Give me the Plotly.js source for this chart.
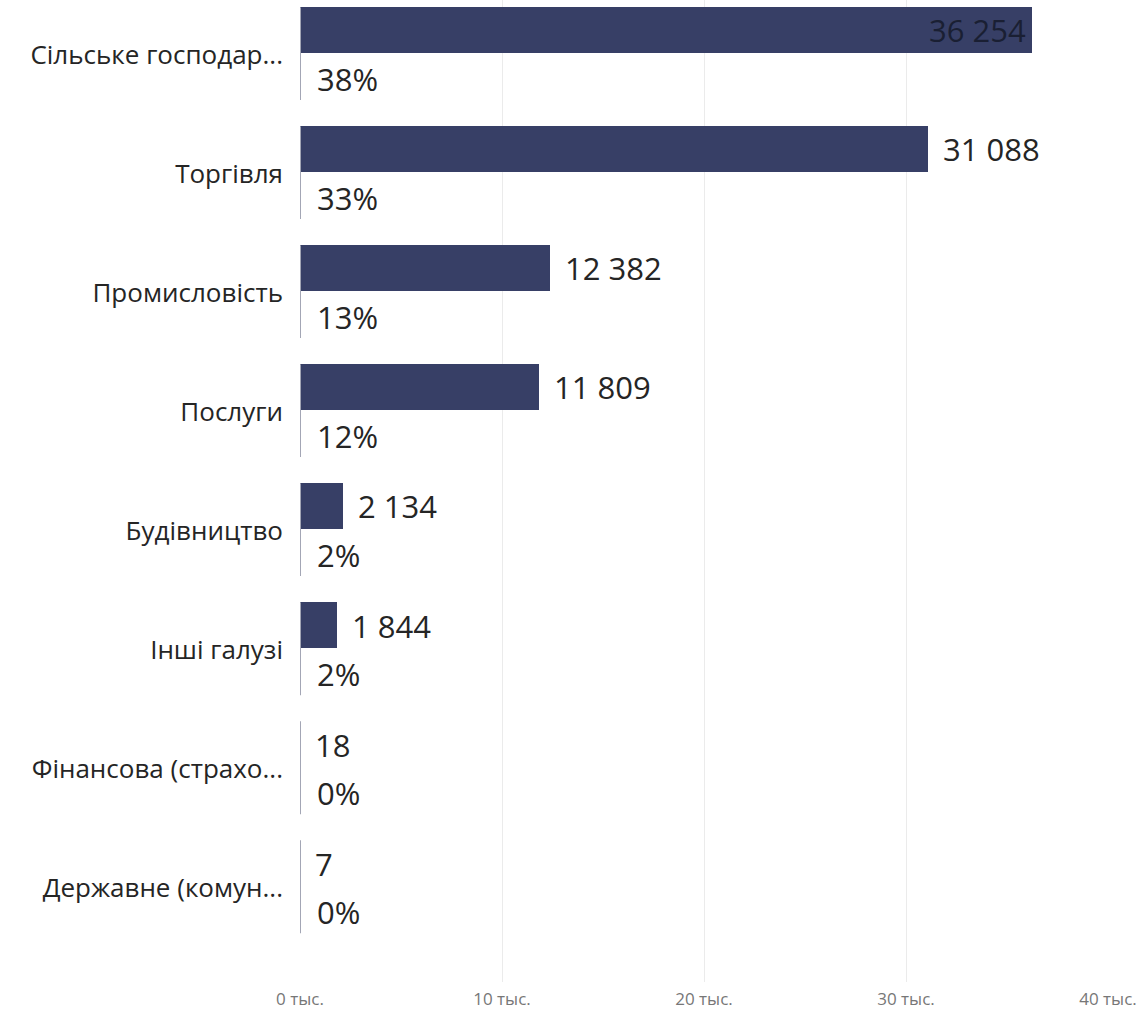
<!DOCTYPE html>
<html>
<head>
<meta charset="utf-8">
<script src="https://cdn.plot.ly/plotly-3.0.1.min.js"></script>
<style>html,body{margin:0;padding:0;background:#fff;}#chart{width:1138px;height:1012px;}</style>
</head>
<body>
<div id="chart"></div>
<script>
const categories = ["Сільське господар...", "Торгівля", "Промисловість", "Послуги", "Будівництво", "Інші галузі", "Фінансова (страхо...", "Державне (комун..."];
const values = [36254, 31088, 12382, 11809, 2134, 1844, 18, 7];
const percents = ["38%", "33%", "13%", "12%", "2%", "2%", "0%", "0%"];
const tickValues = [0, 10000, 20000, 30000, 40000];
const tickLabels = ["0 тыс.", "10 тыс.", "20 тыс.", "30 тыс.", "40 тыс."];

const FONT = "Open Sans, Noto Sans, sans-serif";
const idx = categories.map((_, i) => i);
const fmt = v => String(v).replace(/\B(?=(\d{3})+(?!\d))/g, " ");
const xMax = 40000;

const trace = {
  type: "bar",
  orientation: "h",
  x: values,
  y: idx,
  width: 0.385,
  offset: -0.4,
  marker: { color: "#373f66" },
  hoverinfo: "x+text",
  text: categories,
  textposition: "none"
};

const annotations = [];
const shapes = [];
idx.forEach(i => {
  const inside = values[i] / xMax > 0.85;
  annotations.push({
    x: values[i], y: i - 0.205, xref: "x", yref: "y",
    text: fmt(values[i]), showarrow: false,
    xanchor: inside ? "right" : "left", xshift: inside ? -4 : 13,
    font: { family: FONT, size: 31, color: inside ? "#1a1f33" : "#252525" }
  });
  annotations.push({
    x: 0, y: i + 0.2, xref: "x", yref: "y",
    text: percents[i], showarrow: false,
    xanchor: "left", xshift: 15,
    font: { family: FONT, size: 31, color: "#252525" }
  });
  shapes.push({
    type: "line", xref: "x", yref: "y",
    x0: 0, x1: 0, y0: i - 0.4, y1: i + 0.38,
    line: { color: "#a3a6b5", width: 2 }, layer: "above"
  });
});

const layout = {
  width: 1138, height: 1012,
  margin: { l: 300, r: 30, t: 0, b: 30 },
  paper_bgcolor: "#ffffff", plot_bgcolor: "#ffffff",
  showlegend: false,
  bargap: 0,
  xaxis: {
    range: [0, xMax],
    tickvals: tickValues, ticktext: tickLabels,
    showgrid: true, gridcolor: "#ebebeb", gridwidth: 1,
    zeroline: false, showline: false, ticks: "",
    tickfont: { family: FONT, size: 17, color: "#777777" },
    ticklabelstandoff: 5
  },
  yaxis: {
    range: [7.79, -0.46],
    tickvals: idx, ticktext: categories,
    showgrid: false, zeroline: false, showline: false, ticks: "",
    tickfont: { family: FONT, size: 26, color: "#252525" },
    ticklabelstandoff: 16
  },
  annotations: annotations,
  shapes: shapes
};

Plotly.newPlot("chart", [trace], layout, { displayModeBar: false, staticPlot: true });
</script>
</body>
</html>
